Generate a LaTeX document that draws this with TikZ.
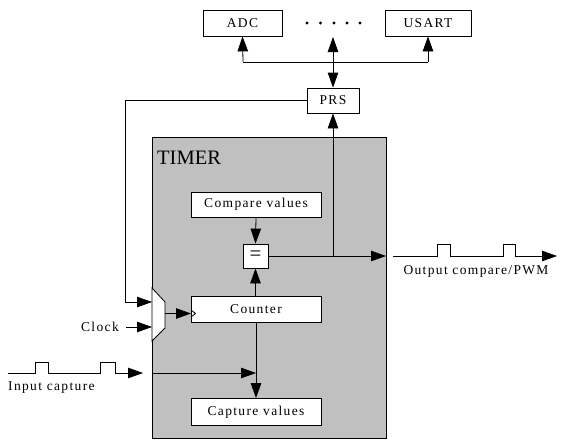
\documentclass[tikz,border=0pt]{standalone}
\usepackage{fontspec}
\setmainfont{Liberation Serif}
\newfontfamily\spaced[LetterSpace=10]{Liberation Serif}
\usetikzlibrary{arrows.meta}
\definecolor{timergray}{HTML}{C0C0C0}
\tikzset{
  blk/.style={draw, fill=white, line width=0.8pt, inner sep=0pt, font=\spaced\fontsize{13.5}{15}\selectfont},
  lbl/.style={inner sep=0pt, font=\spaced\fontsize{13.5}{15}\selectfont},
  wire/.style={line width=0.8pt},
  arr/.style={wire, -{Triangle[length=15pt,width=10.5pt]}},
  darr/.style={wire, {Triangle[length=15pt,width=10.5pt]}-{Triangle[length=15pt,width=10.5pt]}},
  dotmark/.style={fill=black}
}
\begin{document}
\begin{tikzpicture}[x=1pt,y=-1pt]
\useasboundingbox (0,0) rectangle (562,439);
% timer block
\node[draw, fill=timergray, line width=0.8pt, minimum width=234pt, minimum height=301pt, inner sep=0pt, anchor=north west] (timer) at (152,137) {};
\node[anchor=west, inner sep=0pt, font=\fontsize{20.5}{22}\selectfont] (tlabel) at (157,158) {TIMER};
% top peripherals
\node[blk, minimum width=79pt, minimum height=26pt] (adc) at (242.5,23) {ADC};
\node[blk, minimum width=86pt, minimum height=26pt] (usart) at (428,23) {USART};
\foreach \dx in {307,320.5,334,347,360} \fill[dotmark] (\dx,23) circle (1.6);
\node[blk, minimum width=52pt, minimum height=25pt] (prs) at (333,100.5) {PRS};
% inner blocks
\node[blk, minimum width=130pt, minimum height=25pt] (cmp) at (256,204.5) {Compare values};
\node[blk, minimum width=25pt, minimum height=24pt, font=\fontsize{21}{22}\selectfont] (eq) at (255.5,256) {=};
\node[blk, minimum width=130pt, minimum height=26pt] (cnt) at (256,309) {Counter};
\node[blk, minimum width=130pt, minimum height=27pt] (cap) at (256,412) {Capture values};
% mux
\draw[wire, fill=white] (152,288) -- (165,302) -- (165,328) -- (152,341) -- cycle;
\coordinate (muxin1) at (152,302);
\coordinate (muxin2) at (152,327);
\coordinate (muxout) at (165,313.5);
\coordinate (cntclk) at (191,313.5);
\draw[wire] (191,310) -- (195.5,313.5) -- (191,317);
% bus
\coordinate (busL) at (243,62);
\coordinate (busR) at (428,62);
\coordinate (dotarr) at (333,37);
\draw[wire] (busL) -- (busR);
\draw[arr] (busL) -- (adc.south);
\draw[arr] (busR) -- (usart.south);
\draw[darr] (prs.north) -- (dotarr);
% compare path
\coordinate (junc) at (333,256);
\coordinate (tright) at (386,256);
\draw[arr] (cmp.south) -- (eq.north);
\draw[arr] (eq.east) -- (tright);
\draw[arr] (junc) -- (prs.south);
\draw[arr] (cnt.north -| eq) -- (eq.south);
\draw[arr] (cnt.south) -- (cap.north);
% PRS to mux
\coordinate (loopA) at (125,100.5);
\coordinate (loopB) at (125,302);
\draw[arr] (prs.west) -- (loopA) -- (loopB) -- (muxin1);
% clock
\node[lbl, anchor=east] (clock) at (119,327) {Clock};
\coordinate (clkstart) at (126,327);
\draw[arr] (clkstart) -- (muxin2);
\draw[arr] (muxout) -- (cntclk);
% input capture
\coordinate (inS) at (8,373);
\coordinate (inE) at (143,373);
\coordinate (tleft) at (152,373);
\coordinate (vline) at (256,373);
\draw[arr] (inS) -- (35,373) -- (35,362) -- (48,362) -- (48,373) -- (100,373) -- (100,362) -- (115,362) -- (115,373) -- (inE);
\draw[arr] (tleft) -- (vline);
\node[lbl, anchor=west] (inlbl) at (8,388) {Input capture};
% output
\coordinate (outS) at (393,256);
\coordinate (outE) at (557,256);
\draw[arr] (outS) -- (437,256) -- (437,244) -- (450,244) -- (450,256) -- (503,256) -- (503,244) -- (515,244) -- (515,256) -- (outE);
\node[lbl] (outlbl) at (476,271) {Output compare/PWM};
\end{tikzpicture}
\end{document}
